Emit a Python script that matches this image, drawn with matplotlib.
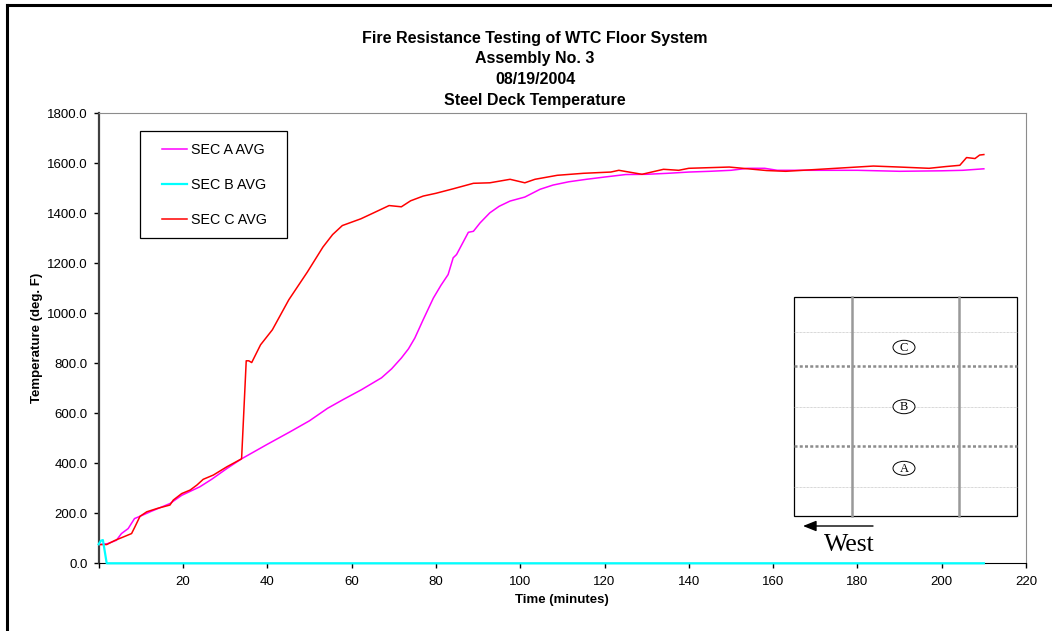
import matplotlib.pyplot as plt
from matplotlib.patches import Rectangle, Ellipse

plt.rcParams['font.family'] = ['Liberation Sans', 'DejaVu Sans']

# SEC A AVG
t_a = [0, 2, 4.2, 5.4, 7, 8.5, 9.8, 12.2, 16.9, 19.7, 24, 26.8, 30.4, 33.9, 40,
       45.4, 50, 54.3, 58, 62.3, 67.1, 69.5, 71.8, 73.5, 75, 77, 79.4, 81.2, 82.9, 84.1, 84.9, 87.7,
       88.9, 90.5, 92.8, 95, 97.6, 101.1, 104.7, 107.8, 111.5, 115.7, 120, 125, 130, 135,
       140, 145, 150, 154, 158, 161, 170, 180, 190, 200, 205, 210]
v_a = [75, 78, 92, 119, 139, 179, 188, 206, 239, 272, 306, 336, 379, 418, 476,
       526, 570, 620, 655, 694, 742, 778, 821, 858, 901, 975, 1061, 1112, 1155, 1222, 1235, 1324,
       1328, 1362, 1402, 1428, 1449, 1465, 1496, 1513, 1526, 1536, 1545, 1555, 1556, 1560,
       1565, 1568, 1572, 1580, 1580, 1572, 1572, 1572, 1568, 1570, 1572, 1578]

# SEC B AVG
t_b = [0, 0.5, 1, 1.9, 210]
v_b = [76, 90, 93, 0, 0]

# SEC C AVG
t_c = [0, 1.9, 3.9, 5.8, 7.8, 8.6, 9.8, 11.4, 14, 16.9, 17.7, 19.7, 21.7, 23.3,
       24.8, 27.2, 30.4, 33.9, 35.0, 35.6, 36.3, 38.4, 41.2, 45.1, 49.5, 53.2,
       55.5, 57.8, 62.2, 65, 68.9, 71.8, 74, 77, 80, 84.1, 88.9, 92.8, 97.6,
       101.1, 103.5, 108.8, 115, 121.5, 123.4, 128.9, 134, 137.6, 140, 149.6,
       158.5, 163, 170, 183.8, 190, 197, 201, 204.3, 205.9, 207.9, 209, 210]
v_c = [75, 75, 92, 105, 119, 146, 188, 206, 220, 233, 253, 279, 293, 313,
       336, 353, 386, 418, 810, 810, 803, 874, 934, 1054, 1165, 1265,
       1315, 1351, 1378, 1400, 1431, 1426, 1450, 1469, 1480, 1498, 1520, 1522, 1536,
       1522, 1536, 1552, 1560, 1565, 1572, 1556, 1576, 1572, 1580, 1585,
       1571, 1568, 1575, 1589, 1585, 1580, 1587, 1592, 1623, 1619, 1633, 1635]

x_ticks = list(range(0, 221, 20))
y_ticks = list(range(0, 1801, 200))

W, H = 1052, 631
fig = plt.figure(figsize=(W / 100, H / 100), dpi=100)

# plot area in pixels
L, R, T, B = 98.7, 1026, 113.3, 563.3
ax = fig.add_axes([L / W, (H - B) / H, (R - L) / W, (B - T) / H])

ax.plot(t_a, v_a, color='#FF00FF', lw=1.1, label='SEC A AVG', zorder=3)
ax.plot(t_b, v_b, color='#00FFFF', lw=1.6, label='SEC B AVG', zorder=4, clip_on=False)
ax.plot(t_c, v_c, color='#FF0000', lw=1.1, label='SEC C AVG', zorder=3)

ax.set_xlim(0, 220)
ax.set_ylim(0, 1800)
ax.set_xticks(x_ticks)
ax.set_xticklabels([''] + [str(x) for x in x_ticks[1:]])
ax.set_yticks(y_ticks)
ax.set_yticklabels(['%.1f' % y for y in y_ticks])
ax.tick_params(axis='x', direction='out', length=3.5, width=1, pad=6, labelsize=9.5)
ax.tick_params(axis='y', direction='out', length=3.5, width=1, pad=4.5, labelsize=9.5)

ax.spines['left'].set_color('#404040')
ax.spines['left'].set_linewidth(1.6)
ax.spines['bottom'].set_color('black')
ax.spines['top'].set_color('#8c8c8c')
ax.spines['right'].set_color('#8c8c8c')

ax.set_xlabel('Time (minutes)', fontsize=9.5, fontweight='bold', labelpad=4)
ax.set_ylabel('Temperature (deg. F)', fontsize=9.5, fontweight='bold', labelpad=3)

# legend with a larger frame like excel
ax.legend(loc='upper left', bbox_to_anchor=(0.068, 0.934), frameon=False,
          fontsize=10.3, handlelength=1.75, handletextpad=0.3, labelspacing=1.47,
          borderpad=0, borderaxespad=0)
ax.add_patch(Rectangle((0.045, 0.723), 0.158, 0.2384, transform=ax.transAxes,
                       fill=False, ec='black', lw=0.9, zorder=5))

# titles
cx = 535 / W
for txt, y in [('Fire Resistance Testing of WTC Floor System', 39),
               ('Assembly No. 3', 59), ('08/19/2004', 79),
               ('Steel Deck Temperature', 100)]:
    fig.text(cx, 1 - y / H, txt, ha='center', va='center', fontsize=11.5, fontweight='bold')

# overlay in pixel coordinates: outer frame and floor plan sketch
ov = fig.add_axes([0, 0, 1, 1], facecolor='none')
ov.set_xlim(0, W)
ov.set_ylim(H, 0)
ov.axis('off')
ov.plot([7, W], [5, 5], color='black', lw=2.2)
ov.plot([7, 7], [5, H], color='black', lw=2.2)

bx0, bx1, by0, by1 = 794.3, 1016.7, 297.3, 515.7
ov.add_patch(Rectangle((bx0, by0), bx1 - bx0, by1 - by0, fill=False, ec='black', lw=0.9))
for y in [331.7, 406.7, 487.3]:
    ov.plot([bx0, bx1], [y, y], color='#b0b0b0', lw=0.5, ls=(0, (1, 1)))
for y in [366, 446]:
    ov.plot([bx0, bx1], [y, y], color='#8c8c8c', lw=1.8, ls=(0, (1.2, 0.9)))
for x in [851.7, 959.3]:
    ov.plot([x, x], [by0, by1], color='#999999', lw=1.8)
for lab, y in [('C', 347.3), ('B', 406.7), ('A', 468.3)]:
    ov.add_patch(Ellipse((904, y), 22, 14, fill=True, fc='white', ec='black', lw=0.7, zorder=4))
    ov.text(904, y + 0.5, lab, ha='center', va='center', fontsize=9,
            family='Liberation Serif', zorder=5)
ov.annotate('', xy=(803, 526), xytext=(873, 526),
            arrowprops=dict(arrowstyle='-|>,head_length=0.8,head_width=0.32',
                            color='black', lw=1.0, shrinkA=0, shrinkB=0))
ov.text(849, 545, 'West', ha='center', va='center', fontsize=18.5, family='Liberation Serif')

fig.savefig('out.png', dpi=100)
